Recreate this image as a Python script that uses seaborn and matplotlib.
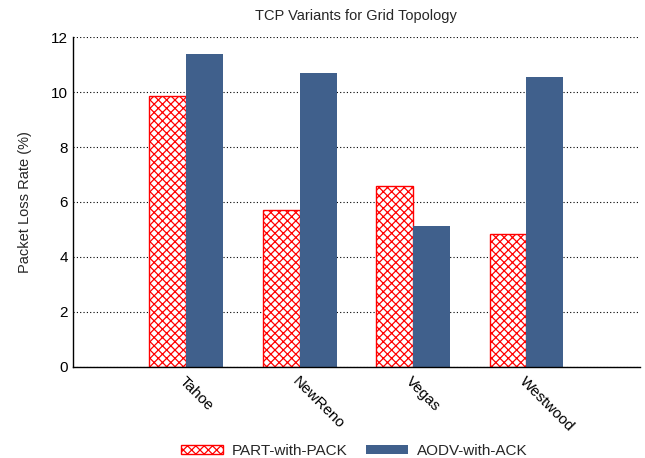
import matplotlib
matplotlib.use("Agg")
import matplotlib.pyplot as plt
import pandas as pd
import seaborn as sns

# Chart data
variants = ["Tahoe", "NewReno", "Vegas", "Westwood"]
part_pack = [9.85, 5.71, 6.58, 4.84]
aodv_ack = [11.38, 10.69, 5.13, 10.55]
series_names = ["PART-with-PACK", "AODV-with-ACK"]

df = pd.DataFrame({
    "variant": variants * 2,
    "rate": part_pack + aodv_ack,
    "series": [series_names[0]] * len(variants) + [series_names[1]] * len(variants),
})

sns.set_style("white")
plt.rcParams["font.family"] = ["Liberation Sans", "DejaVu Sans"]
plt.rcParams["hatch.color"] = "red"
plt.rcParams["hatch.linewidth"] = 0.9

fig, ax = plt.subplots(figsize=(6.45, 4.58), dpi=100)
fig.subplots_adjust(left=0.113, right=0.992, bottom=0.199, top=0.919)

sns.barplot(data=df, x="variant", y="rate", hue="series", hue_order=series_names,
            palette=["white", "#40608C"], width=0.65, gap=0, saturation=1,
            ax=ax, legend=False)

for bar in ax.containers[0]:
    bar.set_facecolor("white")
    bar.set_edgecolor("red")
    bar.set_hatch("xxxx")
    bar.set_linewidth(1.0)
for bar in ax.containers[1]:
    bar.set_edgecolor("#40608C")
    bar.set_linewidth(0)

ax.set_xlim(-1, 4)
ax.set_ylim(0, 12)
ax.set_yticks(range(0, 13, 2))
ax.yaxis.grid(True, linestyle=(0, (1, 2)), color="black", linewidth=0.8)
ax.set_axisbelow(True)

for side in ["top", "right"]:
    ax.spines[side].set_visible(False)
for side in ["left", "bottom"]:
    ax.spines[side].set_color("black")
    ax.spines[side].set_linewidth(1.0)

ax.tick_params(axis="both", length=0, labelsize=11, colors="black")
ax.tick_params(axis="x", pad=5)
for lbl in ax.get_xticklabels():
    lbl.set_rotation(-45)
    lbl.set_ha("left")
    lbl.set_va("top")
    lbl.set_rotation_mode("anchor")

ax.set_xlabel("")
ax.set_ylabel("Packet Loss Rate (%)", fontsize=10.5, labelpad=14)
ax.set_title("TCP Variants for Grid Topology", fontsize=10.5, pad=12)

handles = [ax.containers[0][0], ax.containers[1][0]]
fig.legend(handles, series_names, loc="lower center", bbox_to_anchor=(0.549, -0.03),
           ncol=2, frameon=False, fontsize=11, handlelength=2.75,
           handleheight=0.55, columnspacing=1.2, handletextpad=0.6)

fig.savefig("out.png", dpi=100)
